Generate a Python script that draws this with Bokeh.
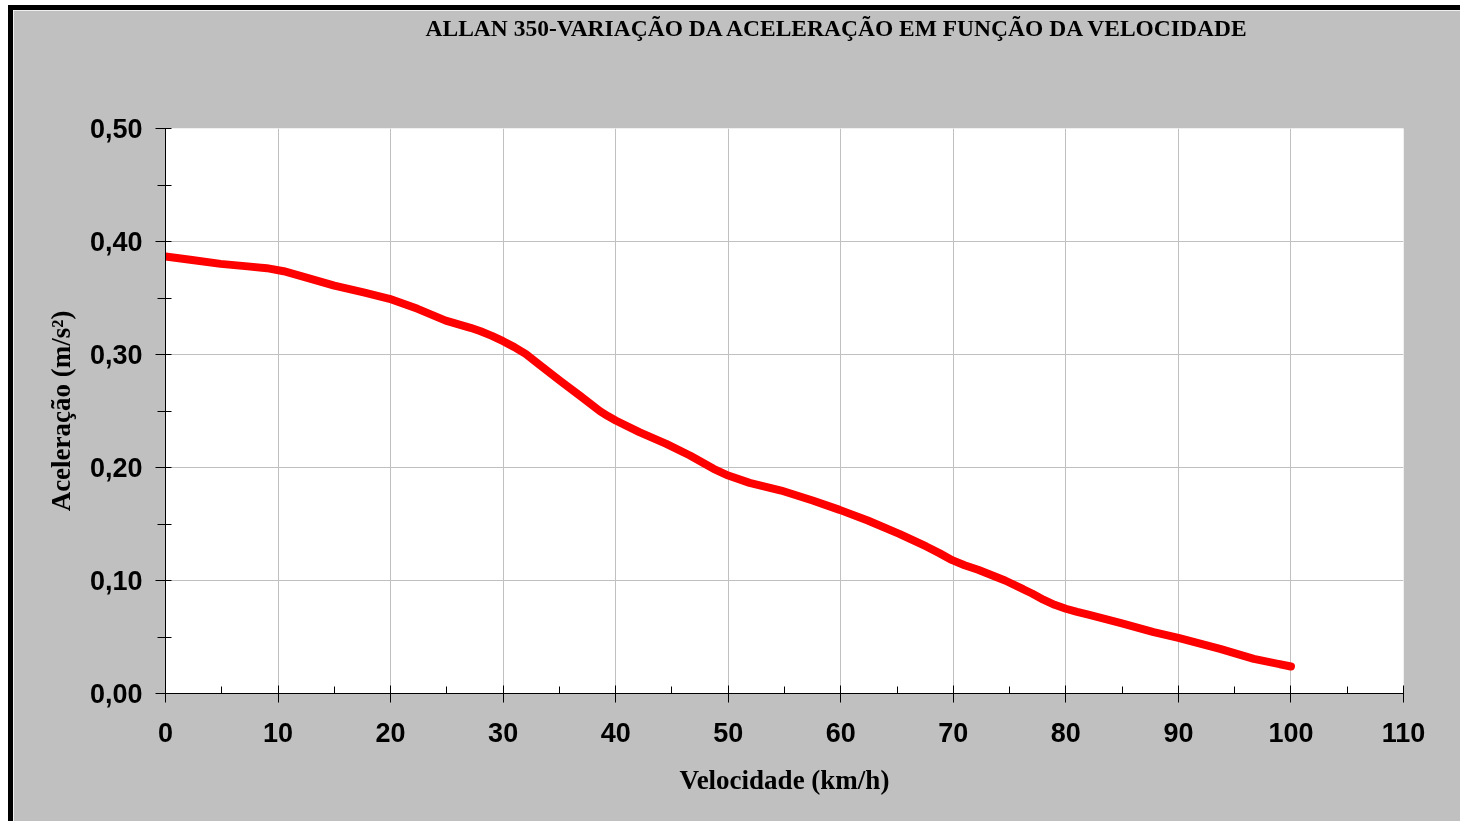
from bokeh.plotting import figure
from bokeh.models import FixedTicker, Range1d, CustomJSTickFormatter, LinearAxis
from bokeh.embed import file_html
from bokeh.resources import INLINE

# ---- data ----
velocidade = [0, 2.2, 4.9, 7.3, 9.0, 10.5, 12.6, 15.0, 17.6, 19.9, 22.4, 24.9, 27.1, 28.0,
              29.0, 30.0, 31.0, 32.0, 33.3, 35.1, 36.8, 38.6, 39.3, 40.0, 42.1, 44.5,
              46.6, 48.7, 50.0, 51.9, 54.7, 57.5, 59.9, 62.4, 65.2, 67.6, 68.8, 69.9,
              71.0, 72.2, 74.6, 77.0, 78.0, 79.0, 80.0, 81.0, 82.0, 84.9, 87.8, 90.0,
              93.7, 96.7, 100.0]
aceleracao = [0.3867, 0.3838, 0.3802, 0.3780, 0.3764, 0.3737, 0.3679, 0.3610, 0.3550,
              0.3493, 0.3404, 0.3300, 0.3236, 0.3205, 0.3165, 0.3118, 0.3065, 0.3005,
              0.2903, 0.2764, 0.2637, 0.2499, 0.2455, 0.2416, 0.2313, 0.2209, 0.2106,
              0.1988, 0.1929, 0.1864, 0.1796, 0.1708, 0.1625, 0.1531, 0.1413, 0.1301,
              0.1240, 0.1180, 0.1135, 0.1095, 0.1000, 0.0885, 0.0830, 0.0785, 0.0750,
              0.0722, 0.0698, 0.0622, 0.0543, 0.0493, 0.0395, 0.0307, 0.0239]
x_ticks = [0, 10, 20, 30, 40, 50, 60, 70, 80, 90, 100, 110]
x_minor = [5, 15, 25, 35, 45, 55, 65, 75, 85, 95, 105]
y_ticks = [0.0, 0.1, 0.2, 0.3, 0.4, 0.5]
y_minor = [0.05, 0.15, 0.25, 0.35, 0.45]
title_text = "ALLAN 350-VARIAÇÃO DA ACELERAÇÃO EM FUNÇÃO DA VELOCIDADE"
x_label = "Velocidade (km/h)"
y_label = "Aceleração (m/s²)"

p = figure(width=1452, height=816, output_backend="svg", toolbar_location=None,
           x_range=Range1d(0, 110), y_range=Range1d(0, 0.5),
           min_border_left=152, min_border_right=62, min_border_top=118,
           min_border_bottom=133)
p.styles = {"position": "fixed", "left": "8px", "top": "5px",
            "border-top": "5px solid black", "border-left": "5px solid black"}

p.background_fill_color = "white"
p.border_fill_color = "#C0C0C0"
p.outline_line_color = None

xa = p.below[0]
ya = p.left[0]

# blank spacer axis above the frame so that the title sits near the top edge
spacer = LinearAxis(ticker=FixedTicker(ticks=[0], minor_ticks=[]), axis_line_color=None,
                    major_tick_line_color=None, minor_tick_line_color=None,
                    major_tick_in=0, major_tick_out=86, minor_tick_in=0, minor_tick_out=0,
                    major_label_standoff=0, major_label_overrides={0: ""})
p.add_layout(spacer, "above")

p.title.text = title_text
p.title.align = "left"
p.title.offset = 260
p.title.standoff = 4
p.title.text_font = "Liberation Serif"
p.title.text_font_style = "bold"
p.title.text_font_size = "23.5px"
p.title.text_color = "black"

xa.ticker = FixedTicker(ticks=x_ticks, minor_ticks=x_minor)
ya.ticker = FixedTicker(ticks=y_ticks, minor_ticks=y_minor)
p.xgrid.ticker = FixedTicker(ticks=x_ticks)
p.ygrid.ticker = FixedTicker(ticks=y_ticks)
p.grid.grid_line_color = "#C0C0C0"
p.grid.grid_line_width = 1

ya.formatter = CustomJSTickFormatter(code="return tick.toFixed(2).replace('.', ',');")

for ax in (xa, ya):
    ax.axis_line_color = "black"
    ax.axis_line_width = 1
    ax.major_tick_line_color = "black"
    ax.minor_tick_line_color = "black"
    ax.major_label_text_font = "Liberation Sans"
    ax.major_label_text_font_style = "bold"
    ax.major_label_text_font_size = "27px"
    ax.major_label_text_color = "black"
    ax.axis_label_text_font = "Liberation Serif"
    ax.axis_label_text_font_style = "bold"
    ax.axis_label_text_font_size = "27px"
    ax.axis_label_text_color = "black"

xa.axis_label = x_label
ya.axis_label = y_label

xa.major_tick_in = 8
xa.major_tick_out = 9
xa.minor_tick_in = 7
xa.minor_tick_out = 0
xa.major_label_standoff = 20
xa.axis_label_standoff = 20

ya.major_tick_in = 6
ya.major_tick_out = 10
ya.minor_tick_in = 6
ya.minor_tick_out = 8
ya.major_label_standoff = 13
ya.axis_label_standoff = 11

p.line(velocidade, aceleracao, line_color="#FF0000", line_width=8,
       line_cap="round", line_join="round")

open("out.html", "w").write(file_html(p, INLINE))
